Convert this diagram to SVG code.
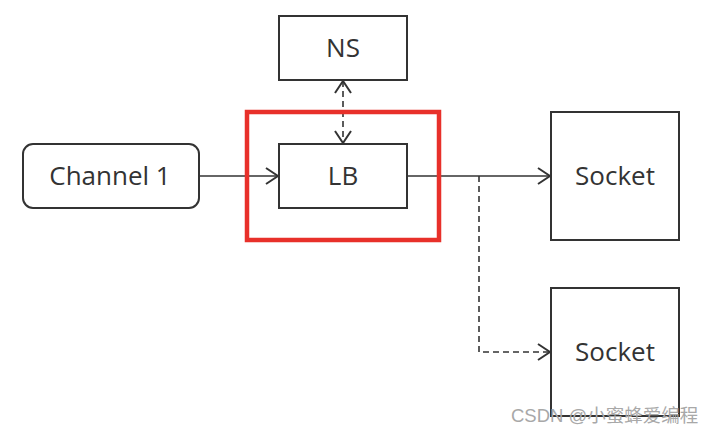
<svg xmlns="http://www.w3.org/2000/svg" width="720" height="436" viewBox="0 0 720 436">
<style>
.box{fill:#fff;stroke:#333;stroke-width:2}
.lbl{font-family:"Open Sans","Noto Sans",sans-serif;font-size:26px;fill:#333;text-anchor:middle;dominant-baseline:central}
.ln{fill:none;stroke:#333;stroke-width:1.6}
.dash{stroke-dasharray:6,4}
.wm{font-family:"Liberation Sans","Noto Sans CJK SC",sans-serif;font-size:18.5px;fill:#a8a8a8}
</style>
<defs>
<marker id="ah" viewBox="0 0 14 18" refX="13" refY="9" markerWidth="14" markerHeight="18" markerUnits="userSpaceOnUse" orient="auto-start-reverse">
<path d="M1,1 L13,9 L1,17" fill="none" stroke="#333" stroke-width="2"/>
</marker>
</defs>
<rect width="720" height="436" fill="#fff"/>
<g id="connectors">
<line class="ln" x1="199" y1="176" x2="278" y2="176" marker-end="url(#ah)"/>
<line class="ln dash" x1="343" y1="81" x2="343" y2="143" marker-start="url(#ah)" marker-end="url(#ah)"/>
<line class="ln" x1="407" y1="176" x2="550" y2="176" marker-end="url(#ah)"/>
<polyline class="ln dash" points="479,176 479,352 550,352" marker-end="url(#ah)"/>
</g>
<g id="ns"><rect class="box" x="279" y="16" width="128" height="64"/><text class="lbl" x="343" y="47">NS</text></g>
<g id="lb"><rect class="box" x="279" y="144" width="128" height="64"/><text class="lbl" x="343" y="175">LB</text></g>
<g id="highlight"><rect x="247" y="112" width="192" height="128" fill="none" stroke="#e8302a" stroke-width="4.5"/></g>
<g id="channel1"><rect class="box" x="23" y="144" width="176" height="64" rx="10"/><text class="lbl" x="110" y="175">Channel 1</text></g>
<g id="socket1"><rect class="box" x="551" y="112" width="128" height="128"/><text class="lbl" x="615" y="175">Socket</text></g>
<g id="socket2"><rect class="box" x="551" y="288" width="128" height="128"/><text class="lbl" x="615" y="351">Socket</text></g>
<text class="wm" x="511" y="422">CSDN @小蜜蜂爱编程</text>
</svg>
